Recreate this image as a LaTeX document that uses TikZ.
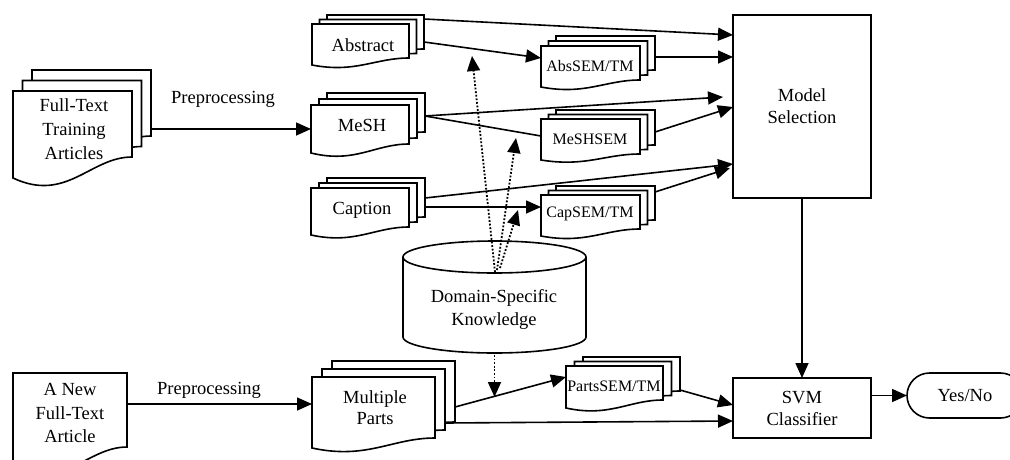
\documentclass[tikz,border=0pt]{standalone}
\usepackage{fontspec}
\setmainfont{Liberation Serif}
\usetikzlibrary{calc,arrows.meta}
\newcommand\docoutline[2]{%
  \draw[docline] (#1.north west) -- (#1.north east) -- ($(#1.south east)+(0,-#2)$)
    .. controls ($(#1.south east)!0.35!(#1.south west)+(0,-#2)$) and ($(#1.south west)!0.45!(#1.south east)+(0,1.2*#2)$) .. (#1.south west) -- cycle;}
% name, x1, top, w, h, dx, dy, d
\newcommand\mkstack[8]{%
  \node[page, minimum width=#4pt, minimum height=#5pt] (#1) at (#2,#3) {};
  \node[page, minimum width=#4pt, minimum height=#5pt] (#1-2) at ($(#2,#3)+(#6,#7)$) {};
  \node[page, minimum width=#4pt, minimum height=#5pt] (#1-3) at ($(#2,#3)+(2*#6,2*#7)$) {};
  \docoutline{#1-3}{#8}
  \docoutline{#1-2}{#8}
  \docoutline{#1}{#8}}
\begin{document}
\begin{tikzpicture}[x=1pt,y=-1pt,line width=1.6pt,
  page/.style={draw=none,inner sep=0pt,outer sep=0pt,anchor=north west},
  docline/.style={draw=black,fill=white,line join=miter},
  big/.style={font=\fontsize{18.5}{23}\selectfont,align=center,inner sep=0pt},
  small/.style={font=\fontsize{16}{19}\selectfont,inner sep=0pt},
  box/.style={draw,inner sep=0pt,outer sep=0pt,align=center,font=\fontsize{18.5}{22}\selectfont},
  arr/.style={-{Triangle[length=15pt,width=13pt]}},
  dotarr/.style={-{Triangle[length=15pt,width=13pt]},line width=1.8pt,dash pattern=on 1.8pt off 1.8pt}]
\path[use as bounding box,clip] (0,0) rectangle (1010,459);

% document stacks
\mkstack{train}{13}{91}{119}{87}{9.5}{-10.5}{21}
\mkstack{abs}{312}{24}{97}{41}{7.5}{-4.5}{7}
\mkstack{mesh}{311}{105}{98}{48}{8}{-6}{9}
\mkstack{cap}{311}{188}{98}{47}{8}{-5}{8}
\mkstack{abssem}{541}{46}{99}{41}{7.5}{-5}{7}
\mkstack{meshsem}{541}{119}{99}{41}{7.5}{-4.5}{6}
\mkstack{capsem}{541}{195}{99}{41}{7.5}{-4.5}{7}
\mkstack{parts}{312}{377}{123}{71}{10}{-8}{10}
\mkstack{partssem}{566}{366}{97}{42}{8.5}{-4.5}{8}
\node[page,minimum width=114pt,minimum height=94pt] (newart) at (13,373) {};
\docoutline{newart}{20}

% texts of documents
\node[big] (ttrain) at (74,129) {Full-Text\\[1pt]Training\\[1pt]Articles};
\node[big] (tabs) at (363,45) {Abstract};
\node[big] (tmesh) at (362,125) {MeSH};
\node[big] (tcap) at (362,210) {Caption};
\node[small] (tabssem) at (590,66) {AbsSEM/TM};
\node[small] (tmeshsem) at (590,139) {MeSHSEM};
\node[small] (tcapsem) at (590,214) {CapSEM/TM};
\node[small] (tpartssem) at (614,386) {PartsSEM/TM};
\node[big,font=\fontsize{18.5}{21}\selectfont] (tparts) at (375,408) {Multiple\\Parts};
\node[big,font=\fontsize{18.5}{23.5}\selectfont] (tnewart) at (70,413) {A New\\Full-Text\\Article};

% cylinder
\node[page,minimum width=183pt,minimum height=112pt] (dsk) at (403,241) {};
\draw ($(dsk.north west)+(0,16)$) -- ($(dsk.south west)+(0,-16)$)
  arc[start angle=180,end angle=360,x radius=91.5pt,y radius=16pt]
  -- ($(dsk.north east)+(0,16)$);
\draw ($(dsk.north)+(0,16)$) ellipse[x radius=91.5pt,y radius=16pt];
\node[big] (tdsk) at (494,309) {Domain-Specific\\Knowledge};

% boxes
\node[box,minimum width=138pt,minimum height=183pt] (model) at (802,106.5) {Model\\Selection};
\node[box,minimum width=138pt,minimum height=60pt] (svm) at (802,408) {SVM\\Classifier};
\node[box,rounded corners=22.5pt,minimum width=116pt,minimum height=45pt] (yesno) at (965,395.5) {Yes/No};

% labels
\node[big] (pre1) at (223,99) {Preprocessing};
\node[big] (pre2) at (209,390) {Preprocessing};

% connectors
\draw[arr] (train-3.east |- mesh.west) -- (mesh.west);
\draw[arr] (newart.east |- 0,404) -- (parts.west |- 0,404);
\draw[arr] ($(abs-3.north east)+(0,4)$) -- ($(model.north west)+(0,20)$);
\draw[arr] ($(abs-3.north east)+(0,27)$) -- ($(abssem.north west)+(0,12)$);
\draw[arr] ($(abssem-3.north east)+(0,21)$) -- ($(model.north west)+(0,42)$);
\draw[arr] ($(mesh-3.north east)+(0,23)$) -- ($(model.north west)+(-10,82)$);
\draw ($(mesh-3.north east)+(0,23)$) -- ($(meshsem.north west)+(0,17)$);
\draw[arr] ($(meshsem-3.north east)+(0,22)$) -- ($(model.north west)+(0,92)$);
\draw[arr] ($(cap-3.north east)+(0,20)$) -- ($(model.north west)+(0,149)$);
\draw[arr] ($(cap-3.north east)+(0,29)$) -- ($(capsem.north west)+(0,12)$);
\draw[arr] ($(capsem-3.north east)+(0,6)$) -- ($(model.north west)+(-3,153)$);
\draw[arr] ($(parts-3.north east)+(0,46)$) -- ($(partssem.north west)+(0,11)$);
\draw[arr] ($(parts-2.north east)+(0,54)$) -- ($(svm.north west)+(0,43)$);
\draw[arr] ($(partssem-3.north east)+(0,33)$) -- ($(svm.north west)+(0,27)$);
\draw[arr] (model.south) -- (svm.north);
\draw[arr] (svm.east |- yesno.west) -- (yesno.west);

% dotted knowledge arrows
\coordinate (k1) at (472,56);
\coordinate (k2) at (516,138);
\coordinate (k3) at (518,210);
\coordinate (k4) at (494.5,397);
\draw[dotarr] ($(dsk.north)+(0.5,31)$) -- (k1);
\draw[dotarr] ($(dsk.north)+(2.5,29)$) -- (k2);
\draw[dotarr] ($(dsk.north)+(5.5,27)$) -- (k3);
\draw[dotarr] ($(dsk.south)+(0,2)$) -- (k4);
\end{tikzpicture}
\end{document}
